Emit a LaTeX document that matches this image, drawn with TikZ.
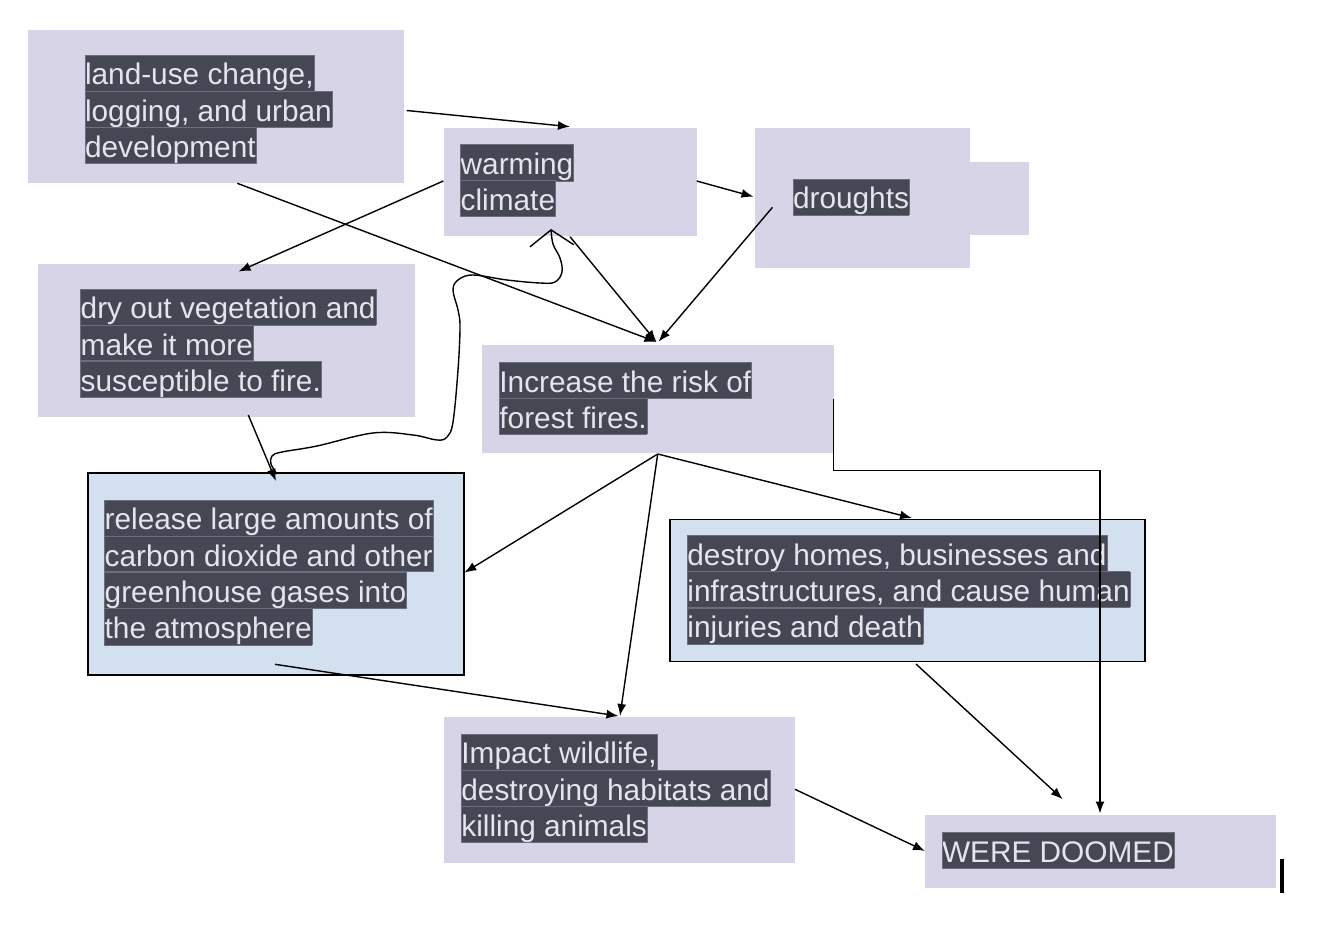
\documentclass[tikz,border=0pt]{standalone}
\usepackage{fontspec}
\setmainfont{Liberation Sans}
\usetikzlibrary{arrows.meta}
\definecolor{lav}{HTML}{D8D4E7}
\definecolor{lblue}{HTML}{D3E0F0}
\definecolor{hlbg}{HTML}{454754}
\definecolor{hlrule}{HTML}{6C6E7C}
\definecolor{hltext}{HTML}{E4E4EC}
\newcommand\hlt[1]{{\setlength{\fboxsep}{0pt}\setlength{\fboxrule}{0.5pt}\fcolorbox{hlrule}{hlbg}{\rule[-5.4pt]{0pt}{35.2pt}\textcolor{hltext}{#1}}}}
\newcommand\txtfont{\fontsize{29.8}{36.2}\selectfont\setlength{\lineskiplimit}{-100pt}\setlength{\lineskip}{0pt}}
\tikzset{
  lavbox/.style={rectangle, fill=lav, draw=none, inner sep=0pt, anchor=north west},
  bluebox/.style={rectangle, fill=lblue, draw=black, line width=1.4pt, inner sep=0pt, anchor=north west},
  txt/.style={anchor=north west, inner sep=0pt, align=left, font=\txtfont},
  arr/.style={draw=black, line width=1.4pt, -{Latex[length=12pt,width=9pt]}},
  wig/.style={draw=black, line width=1.4pt, -{Straight Barb[length=16pt,width=44pt,line width=1.4pt]}}
}
\begin{document}
\begin{tikzpicture}[x=1pt,y=-1pt]
\useasboundingbox (0,0) rectangle (1330,934);
% boxes
\node[lavbox, minimum width=376pt, minimum height=153pt] (b1) at (28,30) {};
\node[lavbox, minimum width=253.4pt, minimum height=108.7pt] (b2) at (443.3,127.3) {};
\node[lavbox, minimum width=60pt, minimum height=72.6pt] (b3x) at (969,161.7) {};
\node[lavbox, minimum width=215pt, minimum height=140.4pt] (b3) at (754.3,127.3) {};
\node[lavbox, minimum width=377pt, minimum height=152.7pt] (b4) at (37.3,264) {};
\node[lavbox, minimum width=351.3pt, minimum height=108.4pt] (b5) at (482,344.3) {};
\node[bluebox, minimum width=376pt, minimum height=202pt] (b6) at (87.3,472.3) {};
\node[bluebox, minimum width=475pt, minimum height=141.7pt] (b7) at (669.3,519) {};
\node[lavbox, minimum width=351pt, minimum height=145.6pt] (b8) at (443.3,716.7) {};
\node[lavbox, minimum width=351.7pt, minimum height=72.3pt] (b9) at (924.3,815) {};
% texts
\node[txt] (t1) at (84.3,54.3) {\hlt{land-use change,}\\\hlt{logging, and urban}\\\hlt{development}};
\node[txt] (t2) at (460,144) {\hlt{warming}\\\hlt{climate}};
\node[txt] (t3) at (792.3,178.3) {\hlt{droughts}};
\node[txt] (t4) at (80,288.3) {\hlt{dry out vegetation and}\\\hlt{make it more}\\\hlt{susceptible to fire.}};
\node[txt] (t5) at (498.7,361.7) {\hlt{Increase the risk of}\\\hlt{forest fires.}};
\node[txt] (t6) at (104,499.3) {\hlt{release large amounts of}\\\hlt{carbon dioxide and other}\\\hlt{greenhouse gases into}\\\hlt{the atmosphere}};
\node[txt] (t7) at (686.7,535) {\hlt{destroy homes, businesses and}\\\hlt{infrastructures, and cause human}\\\hlt{injuries and death}};
\node[txt] (t8) at (460.7,733.3) {\hlt{Impact wildlife,}\\\hlt{destroying habitats and}\\\hlt{killing animals}};
\node[txt] (t9) at (941.3,832) {\hlt{WERE DOOMED}};
% connector end points
\coordinate (b1-r) at (406.7,110.5);
\coordinate (b2-t) at (570,126.7);
\coordinate (b1-b) at (237.3,183.3);
\coordinate (b5-t) at (656.5,342);
\coordinate (b2-l) at (443.3,181);
\coordinate (b4-t) at (238.5,271.5);
\coordinate (b2-r) at (696.7,181);
\coordinate (b3-l) at (753.5,196.7);
\coordinate (b3-i) at (772.5,207.3);
\coordinate (b5-t2) at (658.5,341.7);
\coordinate (b2-b) at (570,236.7);
\coordinate (b4-b) at (248.3,415);
\coordinate (b6-t) at (276,481);
\coordinate (b5-b) at (657.7,454);
\coordinate (b6-r) at (464.3,572.7);
\coordinate (b8-t) at (620,716);
\coordinate (b7-t) at (912,518);
\coordinate (b6-i) at (275,664.3);
\coordinate (b8-t2) at (618.5,716);
\coordinate (b5-r) at (833.3,399.3);
\coordinate (b9-t) at (1100,813.5);
\coordinate (b7-b) at (916,664);
\coordinate (b9-t2) at (1062.7,799.3);
\coordinate (b8-r) at (795,789.3);
\coordinate (b9-l) at (925,851);
\coordinate (b6-w) at (277,474);
\coordinate (b2-w) at (551,229);
% connectors
\draw[arr] (b1-r) -- (b2-t);
\draw[arr] (b1-b) -- (b5-t);
\draw[arr] (b2-l) -- (b4-t);
\draw[arr] (b2-r) -- (b3-l);
\draw[arr] (b3-i) -- (b5-t2);
\draw[arr] (b2-b) -- (b5-t);
\draw[arr] (b4-b) -- (b6-t);
\draw[arr] (b5-b) -- (b6-r);
\draw[arr] (b5-b) -- (b8-t);
\draw[arr] (b5-b) -- (b7-t);
\draw[arr] (b6-i) -- (b8-t2);
\draw[arr] (b5-r) -- ++(0,71.4) -| (b9-t);
\draw[arr] (b7-b) -- (b9-t2);
\draw[arr] (b8-r) -- (b9-l);
\draw[wig] plot[smooth, tension=0.6] coordinates {(b6-w) (271,464) (272,456) (282,452) (317,446) (373,433) (413,435) (437,440) (447,437) (453,422) (458,370) (460,327) (458,310) (453,290) (458,280) (473,275) (507,280) (540,283) (555,282) (562,272) (560,258) (553,244) (b2-w)};
% cursor mark
\draw[line width=3.5pt] (1282,859) -- (1282,893);
\end{tikzpicture}
\end{document}
